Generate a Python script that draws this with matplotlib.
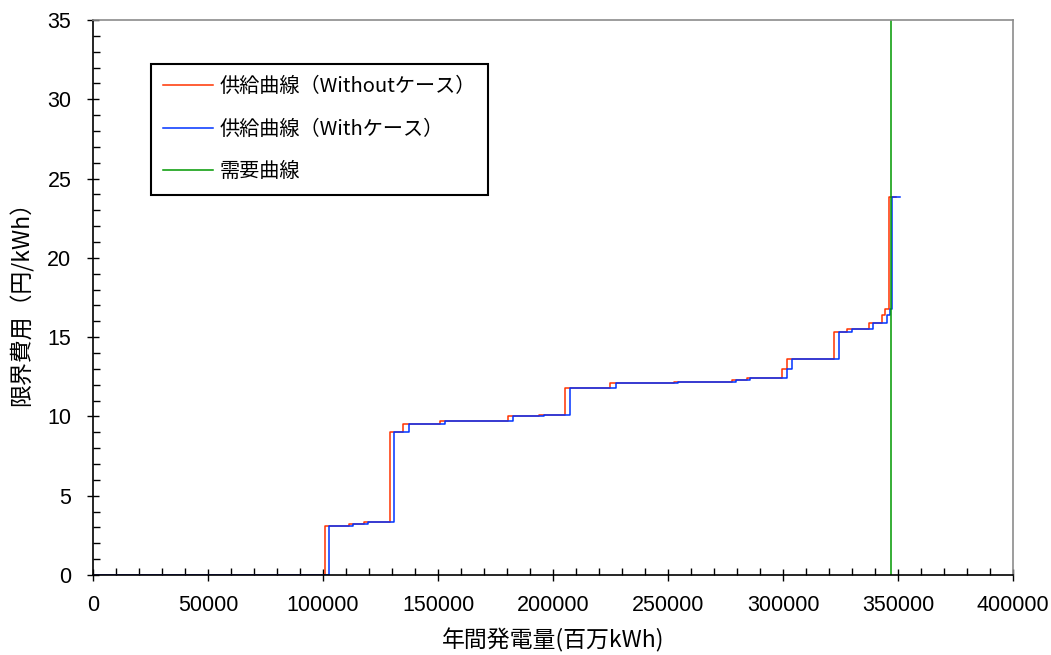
import matplotlib
matplotlib.use("Agg")
import matplotlib.pyplot as plt
from matplotlib.ticker import MultipleLocator

plt.rcParams['font.family'] = ['Liberation Sans', 'Noto Sans CJK JP', 'DejaVu Sans']

# supply curve, Without case (step edges in 百万kWh, marginal cost in 円/kWh)
x_without = [0, 101000, 111300, 117800, 129000, 134800, 150900, 180400, 194000,
             205200, 224900, 252600, 277700, 284200, 299600, 301700, 322200,
             328000, 337400, 342900, 344300, 345900, 349000]
# supply curve, With case
x_with = [0, 102700, 113000, 119600, 131000, 137400, 153000, 182500, 196000,
          207200, 227300, 254500, 279400, 285700, 301600, 303800, 324200,
          329800, 339300, 345000, 346500, 347200, 351000]
cost = [0, 3.1, 3.2, 3.35, 9.0, 9.5, 9.7, 10.0, 10.1, 11.8, 12.1, 12.2, 12.3,
        12.4, 13.0, 13.6, 15.3, 15.5, 15.9, 16.4, 16.8, 23.85, 23.85]
demand_x = 347000

labels = ['供給曲線（Withoutケース）', '供給曲線（Withケース）', '需要曲線']

fig = plt.figure(figsize=(10.51, 6.55), dpi=100)
ax = fig.add_axes([93 / 1051, 80 / 655, 920 / 1051, 555 / 655])

ax.plot(x_without, cost, drawstyle='steps-post', color='#ff3300', lw=1.1, label=labels[0])
ax.plot(x_with, cost, drawstyle='steps-post', color='#0033ff', lw=1.1, label=labels[1])
ax.axvline(demand_x, color='#009900', lw=1.1, label=labels[2])

ax.set_xlim(0, 400000)
ax.set_ylim(0, 35)
ax.xaxis.set_major_locator(MultipleLocator(50000))
ax.xaxis.set_minor_locator(MultipleLocator(10000))
ax.yaxis.set_major_locator(MultipleLocator(5))
ax.yaxis.set_minor_locator(MultipleLocator(1))
ax.tick_params(which='major', direction='inout', length=9, width=1, labelsize=15.5)
ax.tick_params(which='minor', direction='in', length=5, width=1)
ax.tick_params(axis='x', pad=10)
ax.tick_params(axis='y', pad=11)

for s in ['left', 'bottom']:
    ax.spines[s].set_color('black')
    ax.spines[s].set_linewidth(1.2)
for s in ['top', 'right']:
    ax.spines[s].set_color('#8c8c8c')
    ax.spines[s].set_linewidth(1.2)

cjk = ['Noto Sans CJK JP', 'DejaVu Sans']
ax.set_xlabel('年間発電量(百万kWh)', fontsize=16.5, family=cjk, labelpad=9)
ax.set_ylabel('限界費用（円/kWh）', fontsize=16.5, family=cjk, labelpad=10)

leg = ax.legend(loc='upper left', bbox_to_anchor=(0.063, 0.921), borderaxespad=0,
                fancybox=False, framealpha=1, edgecolor='black',
                prop={'family': cjk, 'size': 14.5}, handlelength=2.5,
                handletextpad=0.3, labelspacing=1.08, borderpad=0.6)
leg.get_frame().set_linewidth(1.5)

fig.savefig('out.png', dpi=100)
